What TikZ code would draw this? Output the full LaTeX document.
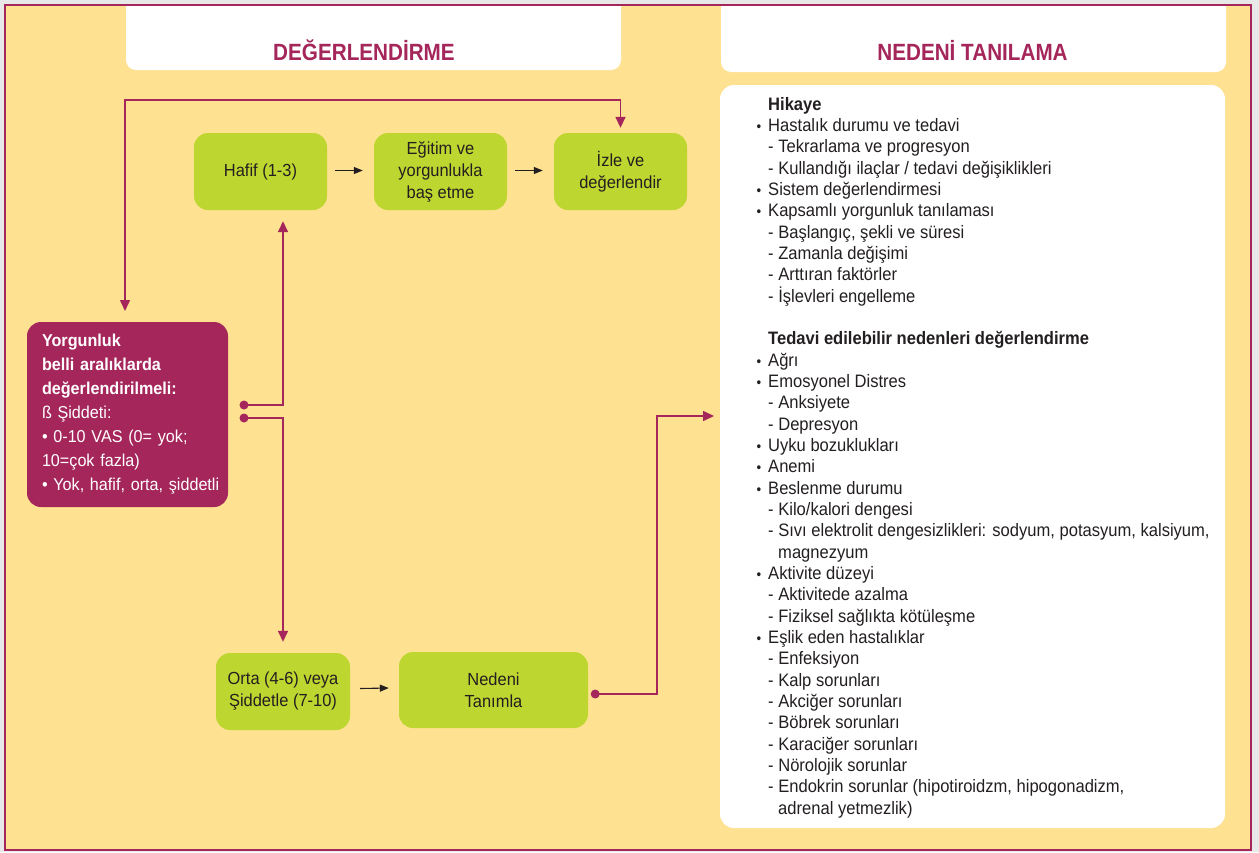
\documentclass[tikz,border=0pt]{standalone}
\usepackage{fontspec}
\setmainfont{Liberation Sans}[FakeStretch=0.94]
\newfontfamily\headfont{Liberation Sans}[FakeStretch=0.88]
\newfontfamily\listfont{Liberation Sans}[FakeStretch=0.92]
\usetikzlibrary{arrows.meta,positioning,calc}
\definecolor{pageyellow}{HTML}{FFE192}
\definecolor{crimson}{HTML}{A5265A}
\definecolor{leafgreen}{HTML}{BED630}
\definecolor{inkblack}{HTML}{231F20}
\definecolor{margingray}{HTML}{E8E8E8}
\newcommand{\itm}{\llap{\scalebox{0.8}{•}\hspace{7pt}}}
\tikzset{greenbox/.style={rectangle, fill=leafgreen, rounded corners=14pt,
    minimum width=133pt, minimum height=77pt, align=center, text=inkblack,
    font=\fontsize{17.5}{22}\selectfont}}
\tikzset{redbox/.style={rectangle, fill=crimson, rounded corners=14pt,
    minimum width=201pt, minimum height=185pt, text width=171pt, inner xsep=15pt,
    align=left, text=white, font=\fontsize{17.2}{24}\selectfont}}
\tikzset{headtext/.style={text=crimson, font=\headfont\bfseries\fontsize{23.5}{27}\selectfont}}
\tikzset{panel/.style={rectangle, fill=white, rounded corners=14pt,
    minimum width=505pt, minimum height=743pt}}
\tikzset{listtext/.style={align=left, inner sep=0pt, text=inkblack,
    font=\listfont\fontsize{18}{21.33}\selectfont}}
\tikzset{magline/.style={draw=crimson, line width=1.5pt,
    -{Triangle[length=11pt,width=10pt]}}}
\tikzset{inkline/.style={draw=inkblack, line width=1.1pt,
    -{Triangle[length=9pt,width=7pt]}}}

\begin{document}
\begin{tikzpicture}[x=1pt, y=-1pt]
  \useasboundingbox (0,0) rectangle (1259,852);
  % Background and frame
  \fill[margingray] (0,0) rectangle (1259,852);
  \fill[pageyellow] (5,5) rectangle (1251,850);
  % Headers
  \fill[white, rounded corners=10pt] (126,5) |- (621,70) -- (621,5);
  \fill[white, rounded corners=10pt] (721,5) |- (1226,72) -- (1226,5);
  \node[headtext] (degtitle) at (364,50) {DEĞERLENDİRME};
  \node[headtext] (nedtitle) at (972.5,50) {NEDENİ TANILAMA};
  % Place nodes
  \node[panel] (panel) at (972.5,456.5) {};
  \node[redbox] (yorg) at (127.5,414.5) {\textbf{Yorgunluk}\\ \textbf{belli aralıklarda}\\
    \mbox{\textbf{değerlendirilmeli:}}\\ ß Şiddeti:\\ \mbox{• 0-10 VAS (0= yok;}\\ 10=çok fazla)\\
    \mbox{• Yok, hafif, orta, şiddetli}};
  \node[greenbox] (hafif) at (260.5,171.5) {Hafif (1-3)};
  \node[greenbox] (egitim) at (440.5,171.5) {Eğitim ve\\ yorgunlukla\\ baş etme};
  \node[greenbox] (izle) at (620.5,171.5) {İzle ve\\ değerlendir};
  \node[greenbox, minimum width=134pt] (orta) at (283,691.5) {Orta (4-6) veya\\ Şiddetle (7-10)};
  \node[greenbox, minimum width=189pt, minimum height=76pt] (nedeni) at (493.5,690) {Nedeni\\ Tanımla};
  \node[listtext, anchor=north west] (causes) at (768,97) {\textbf{Hikaye}\\
    \itm Hastalık durumu ve tedavi\\
    - Tekrarlama ve progresyon\\
    - Kullandığı ilaçlar / tedavi değişiklikleri\\
    \itm Sistem değerlendirmesi\\
    \itm Kapsamlı yorgunluk tanılaması\\
    - Başlangıç, şekli ve süresi\\
    - Zamanla değişimi\\
    - Arttıran faktörler\\
    - İşlevleri engelleme\\[21.33pt]
    \textbf{Tedavi edilebilir nedenleri değerlendirme}\\
    \itm Ağrı\\
    \itm Emosyonel Distres\\
    - Anksiyete\\
    - Depresyon\\
    \itm Uyku bozuklukları\\
    \itm Anemi\\
    \itm Beslenme durumu\\
    - Kilo/kalori dengesi\\
    - Sıvı elektrolit dengesizlikleri: sodyum, potasyum, kalsiyum,\\
    \hspace*{10pt}magnezyum\\
    \itm Aktivite düzeyi\\
    - Aktivitede azalma\\
    - Fiziksel sağlıkta kötüleşme\\
    \itm Eşlik eden hastalıklar\\
    - Enfeksiyon\\
    - Kalp sorunları\\
    - Akciğer sorunları\\
    - Böbrek sorunları\\
    - Karaciğer sorunları\\
    - Nörolojik sorunlar\\
    - Endokrin sorunlar (hipotiroidzm, hipogonadizm,\\
    \hspace*{10pt}adrenal yetmezlik)};
  % Free ends
  \coordinate (loopend) at (125,311);
  \coordinate (dotA) at (244,405);
  \coordinate (dotB) at (244,418);
  \coordinate (dotC) at ($(nedeni.east)+(7,4)$);
  \coordinate (bend) at (657,416);
  \coordinate (pin) at (714,416);
  % Draw edges
  \draw[magline, {Triangle[length=11pt,width=10pt]}-{Triangle[length=11pt,width=10pt]}]
    (loopend) |- ($(izle.north)+(0,-33)$) -- ($(izle.north)+(0,-5)$);
  \draw[magline] (dotA) -| ($(orta.north |- hafif.south)+(0,11)$);
  \draw[magline] (dotB) -| ($(orta.north)+(0,-11)$);
  \draw[magline] (dotC) -| (bend) -- (pin);
  \fill[crimson] (dotA) circle (4.5pt);
  \fill[crimson] (dotB) circle (4.5pt);
  \fill[crimson] (dotC) circle (4.5pt);
  \draw[inkline] ($(hafif.east)+(8,-1)$) -- ($(egitim.west)+(-11,-1)$);
  \draw[inkline] ($(egitim.east)+(8,-1)$) -- ($(izle.west)+(-11,-1)$);
  \draw[inkline] ($(orta.east)+(10,-3)$) -- ($(nedeni.west)+(-10,-2)$);
  % Frame border
  \draw[crimson, line width=1.2pt] (5,5) rectangle (1251,850);
\end{tikzpicture}
\end{document}
